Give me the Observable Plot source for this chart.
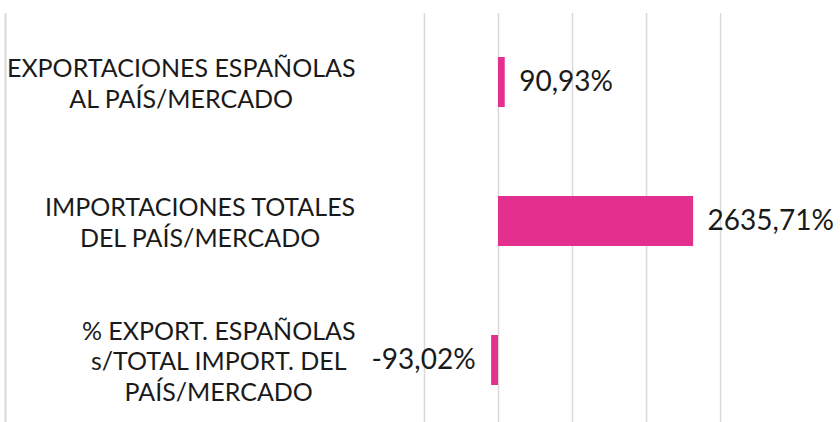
<!DOCTYPE html>
<html>
<head>
<meta charset="utf-8">
<script src="https://cdn.jsdelivr.net/npm/d3@7"></script>
<script src="https://cdn.jsdelivr.net/npm/@observablehq/plot@0.6"></script>
<style>
  html, body { margin: 0; padding: 0; background: #fff; overflow: hidden; }
  #chart svg { display: block; }
</style>
</head>
<body>
<div id="chart"></div>
<script>
const categories = [
  "EXPORTACIONES ESPAÑOLAS\nAL PAÍS/MERCADO",
  "IMPORTACIONES TOTALES\nDEL PAÍS/MERCADO",
  "% EXPORT. ESPAÑOLAS\ns/TOTAL IMPORT. DEL\nPAÍS/MERCADO"
];
const values = [90.93, 2635.71, -93.02];
const valueLabels = ["90,93%", "2635,71%", "-93,02%"];
const gridTicks = [-1000, 0, 1000, 2000, 3000];
const xDomain = [-6660, 4620];

const data = categories.map((c, i) => ({cat: c, value: values[i], label: valueLabels[i]}));

const FONT = "Lato, 'Noto Sans', sans-serif";
const CAT_SIZE = 25;
const ctx = document.createElement("canvas").getContext("2d");
ctx.font = `${CAT_SIZE}px Lato`;
const blockRight = 350; // right edge of label block, relative to frame left
const catMarks = data.map(d => {
  const w = d3.max(d.cat.split("\n"), s => ctx.measureText(s).width);
  return Plot.text([d], {y: "cat", text: "cat", frameAnchor: "left", dx: blockRight - w / 2,
    textAnchor: "middle", lineHeight: 1.22, fill: "#1a1a1a", fontSize: CAT_SIZE});
});

const chart = Plot.plot({
  width: 840,
  height: 422,
  marginLeft: 5,
  marginRight: 0,
  marginTop: 13,
  marginBottom: 0,
  style: {fontFamily: FONT, fontSize: "25px", color: "#1a1a1a", background: "#fff"},
  x: {domain: xDomain, axis: null},
  y: {domain: categories, range: [13, 430], paddingInner: 0.64, paddingOuter: 0.32, axis: null},
  marks: [
    Plot.ruleX(gridTicks, {stroke: "#d9d9d9", strokeWidth: 1.5}),
    Plot.ruleX([xDomain[0]], {stroke: "#d9d9d9", strokeWidth: 2}),
    Plot.barX(data, {x: "value", y: "cat", fill: "#e3308f"}),
    Plot.text(data.filter(d => d.value >= 0), {x: "value", y: "cat", text: "label", textAnchor: "start", dx: 14, fill: "#1a1a1a", fontSize: 28}),
    Plot.text(data.filter(d => d.value < 0), {x: "value", y: "cat", text: "label", textAnchor: "end", dx: -16, fill: "#1a1a1a", fontSize: 28}),
    ...catMarks
  ]
});
document.getElementById("chart").appendChild(chart);
</script>
</body>
</html>
